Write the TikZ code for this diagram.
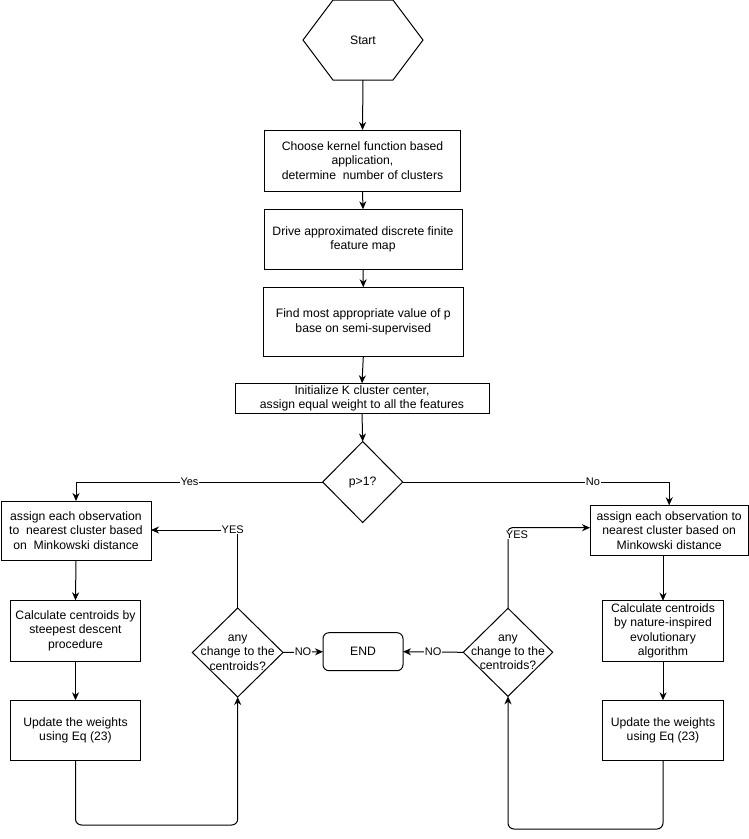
\documentclass[tikz,border=0pt]{standalone}
\usepackage{fontspec}
\setmainfont{Liberation Sans}
\usetikzlibrary{arrows.meta,shapes.geometric}
\begin{document}
\begin{tikzpicture}[x=1pt,y=-1pt,
  every node/.style={inner sep=0pt,outer sep=0pt},
  txt/.style={font=\fontsize{12.2}{14.4}\selectfont,align=center},
  proc/.style={draw=black,line width=1pt,rectangle,txt},
  endbox/.style={draw=black,line width=1pt,rectangle,rounded corners=6pt,txt},
  dec/.style={draw=black,line width=1pt,diamond},
  conn/.style={draw=black,line width=1pt,-{Stealth[length=8pt,width=7pt,inset=2.5pt]}},
  elabel/.style={fill=white,font=\fontsize{11}{12}\selectfont,inner sep=0.5pt}
]
\useasboundingbox (0,0) rectangle (749,839);
% start hexagon
\node (start) [minimum width=120pt,minimum height=80pt,txt] at (363,40) {Start};
\draw[line width=1pt] (start.west) -- ([xshift=30pt]start.north west) -- ([xshift=-30pt]start.north east) -- (start.east) -- ([xshift=-30pt]start.south east) -- ([xshift=30pt]start.south west) -- cycle;
% main column
\node (b1) [proc,minimum width=196pt,minimum height=61pt] at (362.5,160.5) {Choose kernel function based\\application,\\determine\ \ number of clusters};
\node (b2) [proc,minimum width=198pt,minimum height=60pt] at (363,239.3) {Drive approximated discrete finite\\feature map};
\node (b3) [proc,minimum width=200pt,minimum height=69.5pt] at (363.3,322) {Find most appropriate value of p\\base on semi-supervised};
\node (b4) [proc,minimum width=254pt,minimum height=30pt] at (362,398.3) {Initialize K cluster center,\\assign equal weight to all the features};
\node (d1) [dec,minimum width=80pt,minimum height=81pt] at (362.7,482) {};
\node (d1t) [txt] at (362.7,482) {p>1?};
% left branch
\node (L1) [proc,minimum width=150pt,minimum height=59pt] at (76,530.5) {assign each observation\\to\ \ nearest cluster based\\on\ \ Minkowski distance};
\node (L2) [proc,minimum width=130.4pt,minimum height=61pt] at (75.5,630.8) {Calculate centroids by\\steepest descent\\procedure};
\node (L3) [proc,minimum width=130.4pt,minimum height=60pt] at (75.5,730.3) {Update the weights\\using Eq (23)};
\node (dL) [dec,minimum width=90.6pt,minimum height=89pt] at (237.7,652.5) {};
\node (dLt) [txt] at (237.7,652.5) {any\\change to the\\centroids?};
% end
\node (end) [endbox,minimum width=80pt,minimum height=38pt] at (363,651.7) {END};
% right branch
\node (R1) [proc,minimum width=158.3pt,minimum height=50pt] at (669.2,530.3) {assign each observation to\\nearest cluster based on\\Minkowski distance};
\node (R2) [proc,minimum width=120.6pt,minimum height=60.6pt] at (663,631) {Calculate centroids\\by nature-inspired\\evolutionary\\algorithm};
\node (R3) [proc,minimum width=120.6pt,minimum height=60pt] at (663,730.3) {Update the weights\\using Eq (23)};
\node (dR) [dec,minimum width=89.4pt,minimum height=88pt] at (508,652.3) {};
\node (dRt) [txt] at (508,652.3) {any\\change to the\\centroids?};
% connectors
\draw[conn] (start.south) -- (b1.north);
\draw[conn] (b1.south) -- (b2.north);
\draw[conn] (b2.south) -- (b3.north);
\draw[conn] (b3.south) -- (b4.north);
\draw[conn] (b4.south) -- (d1.north);
\draw[conn] (d1.west) -| (L1.north) node[elabel,pos=0.27] (lyes) {Yes};
\draw[conn] (d1.east) -| (R1.north) node[elabel,pos=0.357] (lno) {No};
\draw[conn] (L1.south) -- (L2.north);
\draw[conn] (L2.south) -- (L3.north);
\draw[conn] (R2.north |- R1.south) -- (R2.north);
\draw[conn] (R2.south) -- (R3.north);
\draw[conn,rounded corners=6pt] (L3.south) -- (L3.south |- 0,825) -- (dL.south |- 0,825) -- (dL.south);
\draw[conn,rounded corners=6pt] (R3.south) -- (R3.south |- 0,829) -- (dR.south |- 0,829) -- (dR.south);
\draw[conn] (dL.north) |- (L1.east |- 0,530) node[elabel,pos=0.5,xshift=-5pt] (lyesl) {YES};
\draw[conn,rounded corners=4pt] (dR.north) |- (R1.west |- 0,527.7);
\node[elabel] (lyesr) at (517,535) {YES};
\draw[conn] (dL.east) -- (end.west) node[elabel,midway] (lnol) {NO};
\draw[conn] (dR.west) -- (end.east) node[elabel,midway] (lnor) {NO};
\end{tikzpicture}
\end{document}
